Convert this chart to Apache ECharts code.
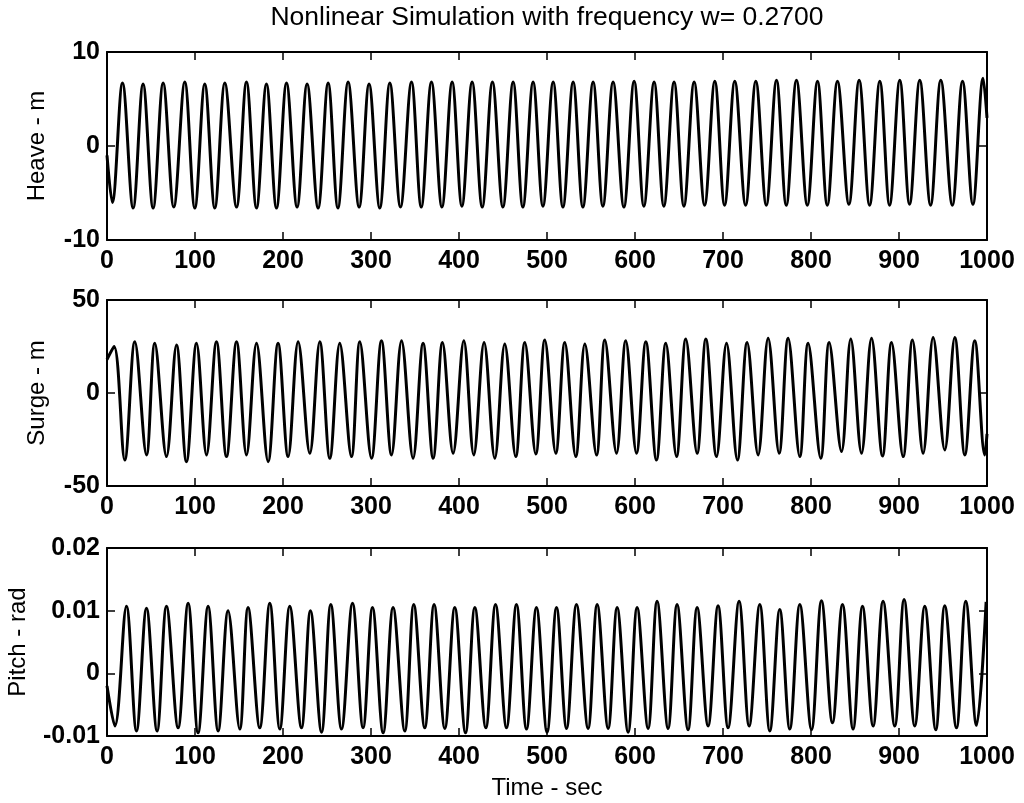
<!DOCTYPE html>
<html><head><meta charset="utf-8">
<script src="https://cdn.jsdelivr.net/npm/echarts@6/dist/echarts.min.js"></script>
<style>html,body{margin:0;padding:0;background:#fff}#c{width:1024px;height:803px}</style>
</head><body><div id="c"></div>
<script>
// ---- text ----
const titleText = 'Nonlinear Simulation with frequency w= 0.2700';
const xName = 'Time - sec';
const panelNames = ['Heave - m', 'Surge - m', 'Pitch - rad'];
// ---- axis ranges / ticks ----
const xRange = [0, 1000, 100];
const heaveRange = [-10, 10, 10];
const surgeRange = [-50, 50, 50];
const pitchRange = [-0.01, 0.02, 0.01];

// ---- data: [time (s), value] at the extrema ----
const heave = [
  [0,-1.0],
  [6.0,-6.0],[17.6,6.7],
  [29.7,-6.6],[41.0,6.6],
  [52.4,-6.6],[63.8,6.7],
  [75.9,-6.5],[88.4,6.8],
  [99.8,-6.6],[111.1,6.6],
  [122.5,-6.6],[133.9,6.7],
  [147.2,-6.5],[158.5,6.8],
  [169.9,-6.6],[181.2,6.6],
  [192.6,-6.6],[204.0,6.7],
  [216.0,-6.5],[227.4,6.6],
  [239.9,-6.6],[251.3,6.7],
  [262.4,-6.6],[274.0,6.8],
  [286.5,-6.5],[297.8,6.6],
  [310.0,-6.6],[321.4,6.7],
  [333.5,-6.5],[346.0,6.8],
  [357.1,-6.5],[368.7,6.8],
  [380.6,-6.5],[392.2,6.8],
  [403.3,-6.4],[414.9,6.8],
  [426.4,-6.5],[438.0,6.8],
  [449.9,-6.5],[461.5,6.8],
  [472.6,-6.5],[484.2,6.8],
  [495.4,-6.4],[507.0,6.8],
  [518.1,-6.5],[529.7,6.8],
  [540.8,-6.5],[552.4,6.8],
  [563.5,-6.4],[575.1,6.8],
  [587.4,-6.5],[599.0,6.9],
  [610.1,-6.4],[621.7,6.8],
  [632.8,-6.4],[644.4,6.8],
  [655.6,-6.4],[667.2,6.8],
  [679.1,-6.3],[690.7,6.9],
  [701.8,-6.3],[713.4,6.9],
  [725.7,-6.3],[737.3,6.9],
  [749.2,-6.3],[760.8,7.0],
  [771.9,-6.3],[783.5,7.0],
  [795.8,-6.3],[807.4,6.9],
  [818.5,-6.3],[830.1,6.9],
  [843.1,-6.2],[854.7,7.0],
  [866.6,-6.3],[878.2,6.9],
  [889.3,-6.3],[900.9,7.0],
  [912.0,-6.2],[923.6,7.0],
  [935.9,-6.3],[947.5,7.0],
  [960.6,-6.3],[972.2,6.9],
  [984.0,-6.2],[995.6,7.2],
  [1000,3.0]
];

const surge = [
  [0,18],
  [8.0,25.0],[20.2,-36.0],
  [31.6,27.6],[44.9,-33.3],
  [54.3,26.7],[67.6,-34.2],
  [79.0,25.8],[90.3,-36.9],
  [101.7,26.7],[113.1,-33.3],
  [124.4,27.6],[135.8,-34.2],
  [147.2,27.6],[158.5,-33.3],
  [169.9,26.7],[183.1,-36.9],
  [194.4,26.7],[205.8,-34.2],
  [217.2,27.6],[230.5,-32.4],
  [241.8,27.6],[253.2,-35.1],
  [264.5,26.7],[277.8,-34.2],
  [287.3,27.6],[300.6,-35.1],
  [311.9,28.1],[323.3,-33.3],
  [334.7,28.1],[347.8,-35.1],
  [359.2,26.7],[370.6,-35.1],
  [381.2,27.1],[393.3,-32.4],
  [405.5,28.1],[416.8,-33.3],
  [428.5,27.1],[440.7,-35.1],
  [452.0,26.3],[464.5,-34.2],
  [474.8,27.1],[487.3,-32.8],
  [497.5,28.5],[510.0,-32.4],
  [520.2,27.1],[532.7,-34.2],
  [543.0,26.3],[556.3,-33.3],
  [565.7,28.5],[579.0,-32.4],
  [589.5,28.1],[601.7,-32.4],
  [612.3,27.6],[624.4,-36.0],
  [635.0,26.7],[647.2,-34.2],
  [657.7,29.0],[670.6,-32.4],
  [680.5,29.0],[692.6,-34.2],
  [704.0,26.7],[716.4,-36.0],
  [727.4,27.1],[739.9,-33.3],
  [751.3,29.4],[763.8,-32.4],
  [774.0,29.4],[787.3,-34.2],
  [796.7,26.7],[811.1,-35.1],
  [820.6,27.1],[834.7,-31.5],
  [845.2,29.0],[857.4,-32.4],
  [868.8,29.4],[881.3,-33.9],
  [891.5,27.1],[904.7,-34.2],
  [915.3,28.5],[927.4,-32.4],
  [938.8,29.9],[952.0,-30.6],
  [963.4,29.9],[974.8,-33.3],
  [986.1,28.1],[997.5,-33.3],
  [1000,-22]
];

const pitch = [
  [0,-0.002],
  [8.9,-0.0084],[22.1,0.0107],
  [33.5,-0.0092],[44.9,0.0104],
  [56.9,-0.0092],[67.6,0.0107],
  [80.8,-0.0087],[92.2,0.0112],
  [103.5,-0.0095],[114.9,0.0107],
  [126.3,-0.0092],[137.6,0.0100],
  [150.9,-0.0089],[160.3,0.0105],
  [173.6,-0.0087],[185.0,0.0112],
  [196.4,-0.0089],[207.7,0.0107],
  [221.0,-0.0087],[231.2,0.0100],
  [243.8,-0.0094],[254.3,0.0110],
  [266.5,-0.0089],[279.0,0.0112],
  [291.0,-0.0087],[301.7,0.0105],
  [313.8,-0.0095],[325.1,0.0105],
  [338.4,-0.0092],[348.6,0.0110],
  [361.1,-0.0087],[371.7,0.0110],
  [383.9,-0.0088],[395.2,0.0105],
  [407.4,-0.0095],[418.0,0.0105],
  [430.5,-0.0087],[441.5,0.0110],
  [454.0,-0.0087],[465.3,0.0110],
  [476.7,-0.0089],[488.0,0.0105],
  [500.1,-0.0094],[510.8,0.0105],
  [522.2,-0.0088],[533.5,0.0110],
  [546.7,-0.0088],[557.0,0.0110],
  [569.5,-0.0088],[579.7,0.0105],
  [592.2,-0.0094],[602.4,0.0105],
  [614.9,-0.0088],[625.1,0.0115],
  [637.6,-0.0088],[647.8,0.0110],
  [660.3,-0.0090],[670.6,0.0105],
  [683.1,-0.0084],[694.4,0.0108],
  [705.8,-0.0087],[718.3,0.0115],
  [729.7,-0.0084],[741.8,0.0110],
  [753.2,-0.0092],[764.5,0.0102],
  [775.9,-0.0089],[787.3,0.0110],
  [800.6,-0.0090],[811.9,0.0116],
  [824.4,-0.0079],[835.8,0.0110],
  [847.8,-0.0089],[858.5,0.0107],
  [870.6,-0.0084],[881.9,0.0115],
  [895.2,-0.0084],[905.8,0.0118],
  [917.9,-0.0084],[929.3,0.0107],
  [941.8,-0.0090],[952.0,0.0108],
  [965.3,-0.0087],[975.9,0.0115],
  [988.1,-0.0083],[999.0,0.0114]
];

// ---- chart ----
const FONT = '"Liberation Sans", Arial, Helvetica, sans-serif';
const INK = '#000';
const frame = { color: INK, width: 2 };
const panels = [
  { data: heave, range: heaveRange, top: 52, height: 188, gap: 58 },
  { data: surge, range: surgeRange, top: 300, height: 186, gap: 58 },
  { data: pitch, range: pitchRange, top: 548, height: 188, gap: 77 }
];
const yFmt = v => String(Math.round(v * 1000) / 1000);
const xFmt = v => String(Math.round(v));
const tickFont = { fontSize: 25, color: INK, fontFamily: FONT, fontWeight: 'bold' };
const nameFont = { fontSize: 24, color: INK, fontFamily: FONT };

const grid = [], xAxis = [], yAxis = [], series = [];
panels.forEach((p, i) => {
  grid.push({ left: 107, right: 37, top: p.top, height: p.height, outerBoundsMode: 'none', containLabel: false });
  ['bottom', 'top'].forEach(pos => {
    xAxis.push({
      type: 'value', gridIndex: i, position: pos,
      min: xRange[0], max: xRange[1], interval: xRange[2],
      axisLine: { show: true, onZero: false, lineStyle: frame },
      axisTick: { show: true, inside: true, length: 8, lineStyle: { color: INK, width: 1.5 } },
      axisLabel: Object.assign({ show: pos === 'bottom', margin: 9, formatter: xFmt,
                   showMinLabel: true, showMaxLabel: true }, tickFont),
      splitLine: { show: false },
      name: (i === 2 && pos === 'bottom') ? xName : '',
      nameLocation: 'middle', nameGap: 40,
      nameTextStyle: nameFont
    });
  });
  ['left', 'right'].forEach(pos => {
    yAxis.push({
      type: 'value', gridIndex: i, position: pos,
      min: p.range[0], max: p.range[1], interval: p.range[2],
      axisLine: { show: true, onZero: false, lineStyle: frame },
      axisTick: { show: true, inside: true, length: 8, lineStyle: { color: INK, width: 1.5 } },
      axisLabel: Object.assign({ show: pos === 'left', margin: 7, formatter: yFmt,
                   showMinLabel: true, showMaxLabel: true }, tickFont),
      splitLine: { show: false },
      name: pos === 'left' ? panelNames[i] : '',
      nameLocation: 'middle', nameGap: p.gap, nameRotate: 90,
      nameTextStyle: nameFont
    });
  });
  series.push({
    type: 'line', name: panelNames[i], xAxisIndex: 2 * i, yAxisIndex: 2 * i,
    data: p.data, showSymbol: false, smooth: 0.35, clip: true,
    lineStyle: { color: INK, width: 3 }, animation: false
  });
});

const chart = echarts.init(document.getElementById('c'), null, { renderer: 'canvas' });
chart.setOption({
  backgroundColor: '#fff',
  animation: false,
  grid, xAxis, yAxis, series,
  graphic: [{
    type: 'text', x: 547, y: 18,
    style: { text: titleText, font: '26.5px ' + FONT, fill: INK,
             textAlign: 'center', textVerticalAlign: 'middle', align: 'center', verticalAlign: 'middle' }
  }]
});
</script></body></html>
